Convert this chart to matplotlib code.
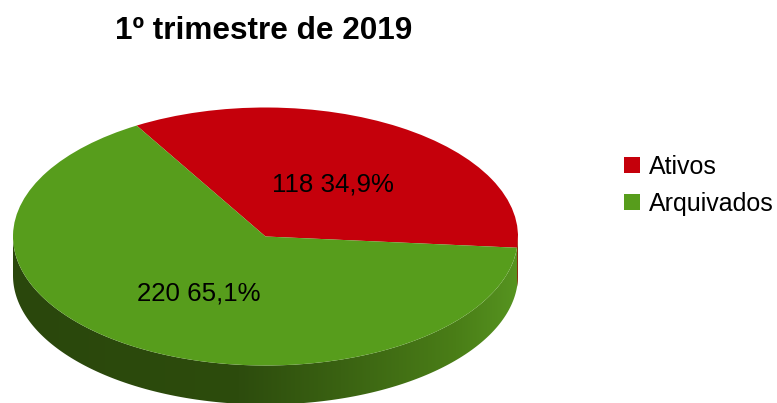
import numpy as np
import matplotlib
matplotlib.use('Agg')
import matplotlib.pyplot as plt
from matplotlib.patches import Polygon, Patch
from matplotlib.colors import LinearSegmentedColormap

# data
labels = ['Ativos', 'Arquivados']
values = [118, 220]
colors = ['#C5000B', '#579D1C']
title = '1º trimestre de 2019'

W, H = 777, 403
cx, cy, rx, ry = 265.5, 236.5, 252.5, 129.0
depth = 39 / ry
start = -5.0

plt.rcParams['font.family'] = ['Liberation Sans', 'DejaVu Sans']

fig = plt.figure(figsize=(W / 100, H / 100), dpi=100)
ax = fig.add_axes([0, 0, 1, 1])

# top face
wedges, _ = ax.pie(values, colors=colors, startangle=start, radius=1,
                   wedgeprops={'linewidth': 0, 'zorder': 3})

# pixel positions -> ellipse units
ax.set_aspect('auto')
ax.set_xlim((0 - cx) / rx, (W - cx) / rx)
ax.set_ylim((cy - H) / ry, (cy - 0) / ry)
ax.axis('off')


def px(x, y):
    return (x - cx) / rx, (cy - y) / ry


# side wall, shaded dark to light from left to right
t = np.radians(np.linspace(180, 360, 200))
arc = np.column_stack([np.cos(t), np.sin(t)])
low = arc[::-1] - [0, depth]
side = Polygon(np.vstack([arc, low]), closed=True, fc='none', ec='none')
ax.add_patch(side)
cmap = LinearSegmentedColormap.from_list(
    'side', [(0, '#2A470C'), (0.45, '#2D4C0D'), (0.65, '#3A6212'),
             (0.88, '#4A7E17'), (1, '#569420')])
img = ax.imshow(np.linspace(0, 1, 256).reshape(1, -1), cmap=cmap, aspect='auto',
                extent=[-1, 1, -1 - depth, 0], zorder=1, interpolation='bilinear')
img.set_clip_path(side)
ax.set_xlim((0 - cx) / rx, (W - cx) / rx)
ax.set_ylim((cy - H) / ry, (cy - 0) / ry)

# sliver of the red slice on the right edge
t2 = np.radians(np.linspace(start, 0, 20))
arc2 = np.column_stack([np.cos(t2), np.sin(t2)])
ax.add_patch(Polygon(np.vstack([arc2, arc2[::-1] - [0, depth]]), closed=True,
                     fc='#8E2A10', ec='none', zorder=2))

# slice labels
total = sum(values)
pos = [(333, 184), (198.5, 293.5)]
for v, p in zip(values, pos):
    s = f'{v} {100 * v / total:.1f}%'.replace('.', ',')
    ax.text(*px(*p), s, fontsize=18.6, color='black', ha='center', va='center',
            zorder=5)

ax.text(*px(263.5, 31), title, fontsize=22.7, fontweight='bold', ha='center',
        va='center', zorder=5)

handles = [Patch(fc=c, ec='none') for c in colors]
ax.legend(handles, labels, loc='center left',
          bbox_to_anchor=(624 / W, 1 - 185 / H), frameon=False, fontsize=18,
          handlelength=0.64, handleheight=0.62, handletextpad=0.36,
          labelspacing=0.52, borderpad=0, borderaxespad=0)

fig.savefig('out.png', dpi=100)
